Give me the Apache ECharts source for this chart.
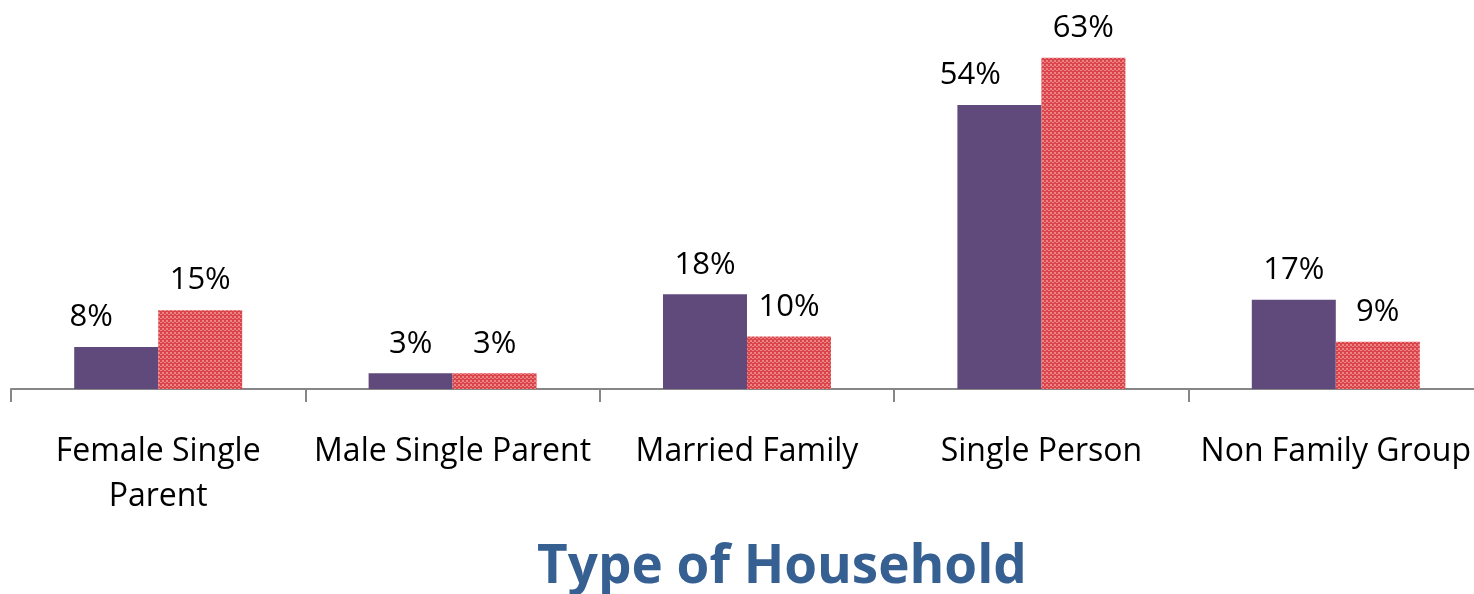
<!DOCTYPE html>
<html>
<head>
<meta charset="utf-8">
<script src="https://cdn.jsdelivr.net/npm/echarts@6/dist/echarts.min.js"></script>
<style>
  html, body { margin: 0; padding: 0; background: #fff; overflow: hidden; }
  #chart { width: 1490px; height: 594px; }
</style>
</head>
<body>
<div id="chart"></div>
<script>
// categories and values (percent)
var categories = ['Female Single\nParent', 'Male Single Parent', 'Married Family', 'Single Person', 'Non Family Group'];
var seriesA = [8, 3, 18, 54, 17];
var seriesB = [15, 3, 10, 63, 9];

// small checker pattern for the red bars
function makePattern() {
    var c = document.createElement('canvas');
    c.width = 4; c.height = 4;
    var ctx = c.getContext('2d');
    ctx.fillStyle = '#EC8486';
    ctx.fillRect(0, 0, 4, 4);
    ctx.fillStyle = '#DA454B';
    ctx.fillRect(0, 0, 2, 2);
    ctx.fillRect(2, 2, 2, 2);
    ctx.fillRect(0, 3, 4, 1);
    return c;
}

var myChart = echarts.init(document.getElementById('chart'));
var labelStyle = {
    show: true,
    position: 'top',
    distance: 14,
    formatter: '{c}%',
    color: '#000',
    fontSize: 31,
    fontFamily: 'Open Sans'
};
// labels nudged left where the neighbour bar is taller (like the original)
var shiftLeft = { 0: -25, 3: -29 };
var dataA = seriesA.map(function (v, i) {
    return shiftLeft[i] ? { value: v, label: { offset: [shiftLeft[i], 0] } } : v;
});
myChart.setOption({
    animation: false,
    title: {
        text: 'Type of Household',
        left: 777,
        top: 536,
        textAlign: 'center',
        textStyle: { color: '#376092', fontSize: 53, fontWeight: 'bold', fontFamily: 'Open Sans' }
    },
    grid: { left: 11, top: 21, width: 1472, height: 368, containLabel: false },
    xAxis: {
        type: 'category',
        data: categories,
        axisLine: { lineStyle: { color: '#868686', width: 2 } },
        axisTick: { show: true, length: 13, lineStyle: { color: '#868686', width: 2 } },
        axisLabel: {
            margin: 40,
            color: '#000',
            fontSize: 32,
            lineHeight: 45,
            fontFamily: 'Open Sans',
            interval: 0
        }
    },
    yAxis: {
        type: 'value',
        min: 0,
        max: 70,
        show: false,
        splitLine: { show: false }
    },
    series: [
        {
            type: 'bar',
            data: dataA,
            barWidth: 84,
            barGap: '0%',
            itemStyle: { color: '#604A7B' },
            label: labelStyle
        },
        {
            type: 'bar',
            data: seriesB,
            barWidth: 84,
            itemStyle: { color: { image: makePattern(), repeat: 'repeat' } },
            label: labelStyle
        }
    ]
});
</script>
</body>
</html>
